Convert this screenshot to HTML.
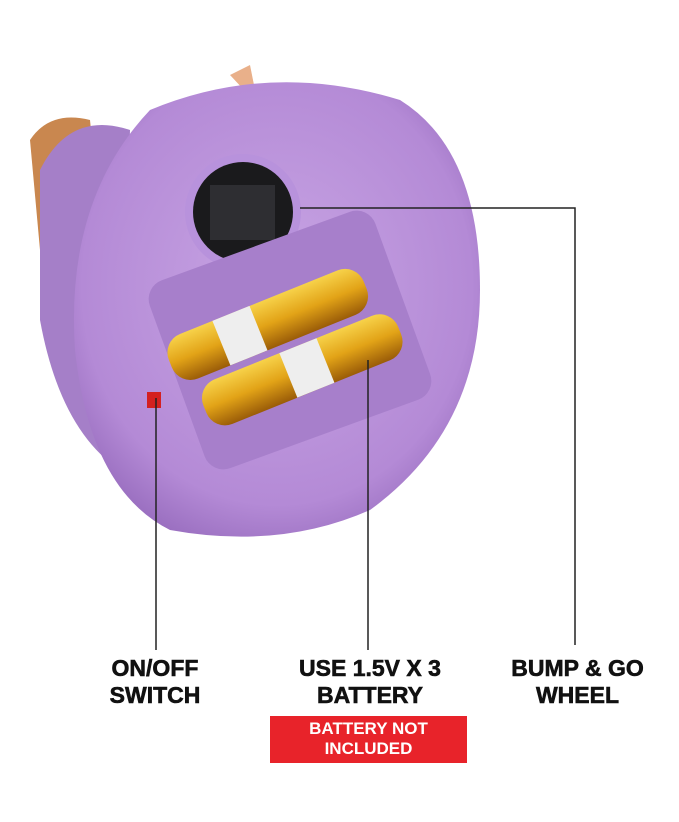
<!DOCTYPE html>
<html><head><style>
body{margin:0;background:#fff;width:679px;height:822px;overflow:hidden;font-family:"Liberation Sans",sans-serif}
.l{position:absolute;font-weight:bold;font-size:23px;line-height:27px;text-align:center;color:#111;-webkit-text-stroke:0.6px #111}
</style></head><body>
<svg width="679" height="822" style="position:absolute;left:0;top:0">
<defs>
<radialGradient id="p" cx="50%" cy="45%" r="60%"><stop offset="0" stop-color="#c8a5e4"/><stop offset="0.8" stop-color="#b48ad6"/><stop offset="1" stop-color="#9a6fc0"/></radialGradient>
<linearGradient id="g" x1="0" y1="0" x2="0" y2="1"><stop offset="0" stop-color="#f7d24a"/><stop offset="0.5" stop-color="#e2a317"/><stop offset="1" stop-color="#9a5c08"/></linearGradient>
</defs>
<path d="M230 75 l20 -10 l8 40 z" fill="#e9b08a"/>
<path d="M30 140 q20 -30 60 -20 l10 100 l-60 30 z" fill="#c9874f"/>
<path d="M40 170 q30 -60 90 -40 l-10 340 q-60 -40 -80 -150 z" fill="#a57fc8"/>
<path d="M150 110 q120 -50 250 -10 q80 50 80 190 q0 140 -110 220 q-90 40 -200 20 q-80 -40 -95 -180 q-10 -150 75 -240 z" fill="url(#p)"/>
<circle cx="243" cy="212" r="58" fill="#b892dc"/>
<circle cx="243" cy="212" r="50" fill="#1a1a1c"/>
<rect x="210" y="185" width="65" height="55" fill="#2e2e32"/>
<rect x="170" y="240" width="240" height="200" rx="20" fill="#a77fcb" transform="rotate(-20 290 340)"/>
<g transform="rotate(-22 270 330)">
<rect x="165" y="300" width="210" height="48" rx="20" fill="url(#g)"/>
<rect x="180" y="355" width="210" height="48" rx="20" fill="url(#g)"/>
<rect x="220" y="300" width="40" height="48" fill="#eee"/>
<rect x="270" y="355" width="40" height="48" fill="#eee"/>
</g>
<rect x="147" y="392" width="14" height="16" fill="#d42020"/>
<g stroke="#222" stroke-width="1.5" fill="none">
<line x1="156" y1="398" x2="156" y2="650"/>
<line x1="368" y1="360" x2="368" y2="650"/>
<polyline points="300,208 575,208 575,645"/>
</g>
</svg>
<div class="l" style="left:85px;top:655px;width:140px">ON/OFF<br>SWITCH</div>
<div class="l" style="left:270px;top:655px;width:200px">USE 1.5V X 3<br>BATTERY</div>
<div class="l" style="left:485px;top:655px;width:185px">BUMP &amp; GO<br>WHEEL</div>
<div style="position:absolute;left:270px;top:716px;width:197px;height:47px;background:#e8232a;color:#fff;font-weight:bold;font-size:17px;line-height:20px;text-align:center;padding-top:3px;box-sizing:border-box">BATTERY NOT<br>INCLUDED</div>
</body></html>
